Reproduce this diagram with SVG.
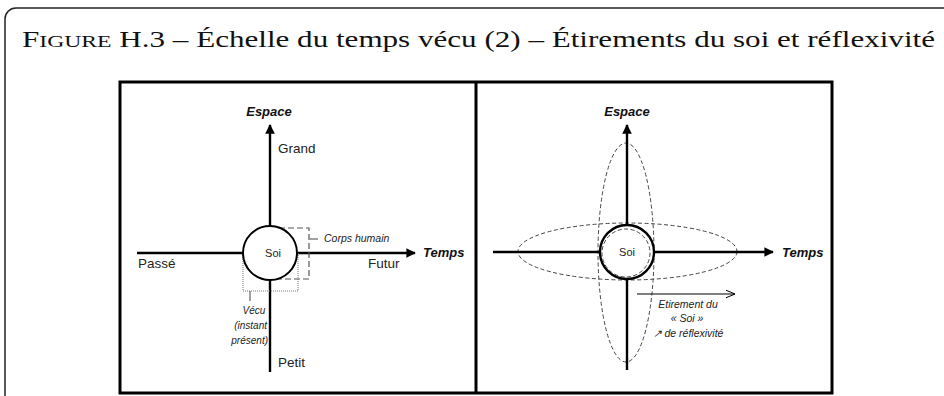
<svg xmlns="http://www.w3.org/2000/svg" width="944" height="396" viewBox="0 0 944 396">
<defs>
<style>
.ax{stroke:#000;stroke-width:2.4;fill:none}
.lbl{font-family:"Liberation Sans",Arial,sans-serif;font-size:13.5px;fill:#222}
.axl{font-family:"Liberation Sans",Arial,sans-serif;font-size:13px;font-weight:bold;font-style:italic;fill:#111}
.sm{font-family:"Liberation Sans",Arial,sans-serif;font-size:10.5px;font-style:italic;fill:#222}
.vc{font-size:10px}
.soi{font-family:"Liberation Sans",Arial,sans-serif;font-size:11px;fill:#222}
.dash{stroke:#444;stroke-width:1;fill:none;stroke-dasharray:4 2.5}
</style>
<marker id="ah" viewBox="0 0 10 10" refX="9" refY="5" markerWidth="4" markerHeight="4" orient="auto" markerUnits="strokeWidth">
<path d="M0,0 L10,5 L0,10 z" fill="#000"/>
</marker>
<marker id="oa" viewBox="0 0 10 10" refX="9.5" refY="5" markerWidth="10" markerHeight="10" orient="auto" markerUnits="userSpaceOnUse">
<path d="M0,1 L9.5,5 L0,9" fill="none" stroke="#000" stroke-width="1"/>
</marker>
</defs>
<rect x="0" y="0" width="944" height="396" fill="#fff"/>
<rect x="5" y="8" width="970" height="420" rx="11" fill="none" stroke="#222" stroke-width="1.5"/>
<text x="22" y="47" font-family="'Liberation Serif','Times New Roman',serif" font-size="23" fill="#111" textLength="913" lengthAdjust="spacingAndGlyphs">F<tspan font-size="17.5">IGURE</tspan> H.3 – Échelle du temps vécu (2) – Étirements du soi et réflexivité</text>

<g id="frame">
<rect x="120" y="82" width="712" height="311" fill="#fff" stroke="#000" stroke-width="3"/>
<line x1="476" y1="82" x2="476" y2="393" stroke="#000" stroke-width="3"/>
</g>

<g id="ellipses">
<ellipse class="dash" cx="627.5" cy="251.5" rx="109.5" ry="28.5"/>
<ellipse class="dash" cx="626" cy="252.5" rx="28" ry="109.5"/>
</g>

<g id="connectors">
<line class="ax" x1="270" y1="372" x2="270" y2="125" marker-end="url(#ah)"/>
<line class="ax" x1="137" y1="253" x2="415" y2="253" marker-end="url(#ah)"/>
<line class="ax" x1="627" y1="370" x2="627" y2="125" marker-end="url(#ah)"/>
<line class="ax" x1="493" y1="252" x2="773" y2="252" marker-end="url(#ah)"/>
<line x1="637" y1="294" x2="735" y2="294" stroke="#000" stroke-width="1" marker-end="url(#oa)"/>
</g>

<g id="corps">
<rect x="270" y="228" width="39" height="51" fill="none" stroke="#555" stroke-width="1.2" stroke-dasharray="6 3"/>
<line x1="310" y1="239" x2="318" y2="239" stroke="#444" stroke-width="1"/>
<text class="sm" x="324" y="242">Corps humain</text>
</g>

<g id="vecu">
<path d="M243,253 V291 H298 V253" fill="none" stroke="#777" stroke-width="1" stroke-dasharray="1 1"/>
<line x1="250" y1="291" x2="250" y2="301" stroke="#444" stroke-width="1"/>
<text class="sm vc" x="254" y="314" text-anchor="middle">Vécu</text>
<text class="sm vc" x="267" y="329" text-anchor="end">(instant</text>
<text class="sm vc" x="268" y="344" text-anchor="end">présent)</text>
</g>

<g id="soi1">
<circle cx="270" cy="253" r="27" fill="#fff" stroke="#000" stroke-width="2"/>
<text class="soi" x="273" y="257" text-anchor="middle">Soi</text>
</g>

<g id="labels1">
<text class="axl" x="269" y="116" text-anchor="middle">Espace</text>
<text class="lbl" x="278" y="153">Grand</text>
<text class="lbl" x="138" y="268">Passé</text>
<text class="lbl" x="368" y="268">Futur</text>
<text class="axl" x="423" y="257">Temps</text>
<text class="lbl" x="278" y="367">Petit</text>
</g>

<g id="soi2">
<circle cx="627" cy="252" r="27" fill="#fff" stroke="#000" stroke-width="2.4"/>
<circle class="dash" cx="626" cy="253" r="24" stroke-dasharray="3 2"/>
<text class="soi" x="627" y="256" text-anchor="middle">Soi</text>
</g>

<g id="labels2">
<text class="axl" x="627" y="116" text-anchor="middle">Espace</text>
<text class="axl" x="782" y="257">Temps</text>
<text class="sm" x="688" y="308" text-anchor="middle">Etirement du</text>
<text class="sm" x="687" y="322" text-anchor="middle">« Soi »</text>
<text class="sm" x="688" y="337" text-anchor="middle">↗ de réflexivité</text>
</g>
</svg>
